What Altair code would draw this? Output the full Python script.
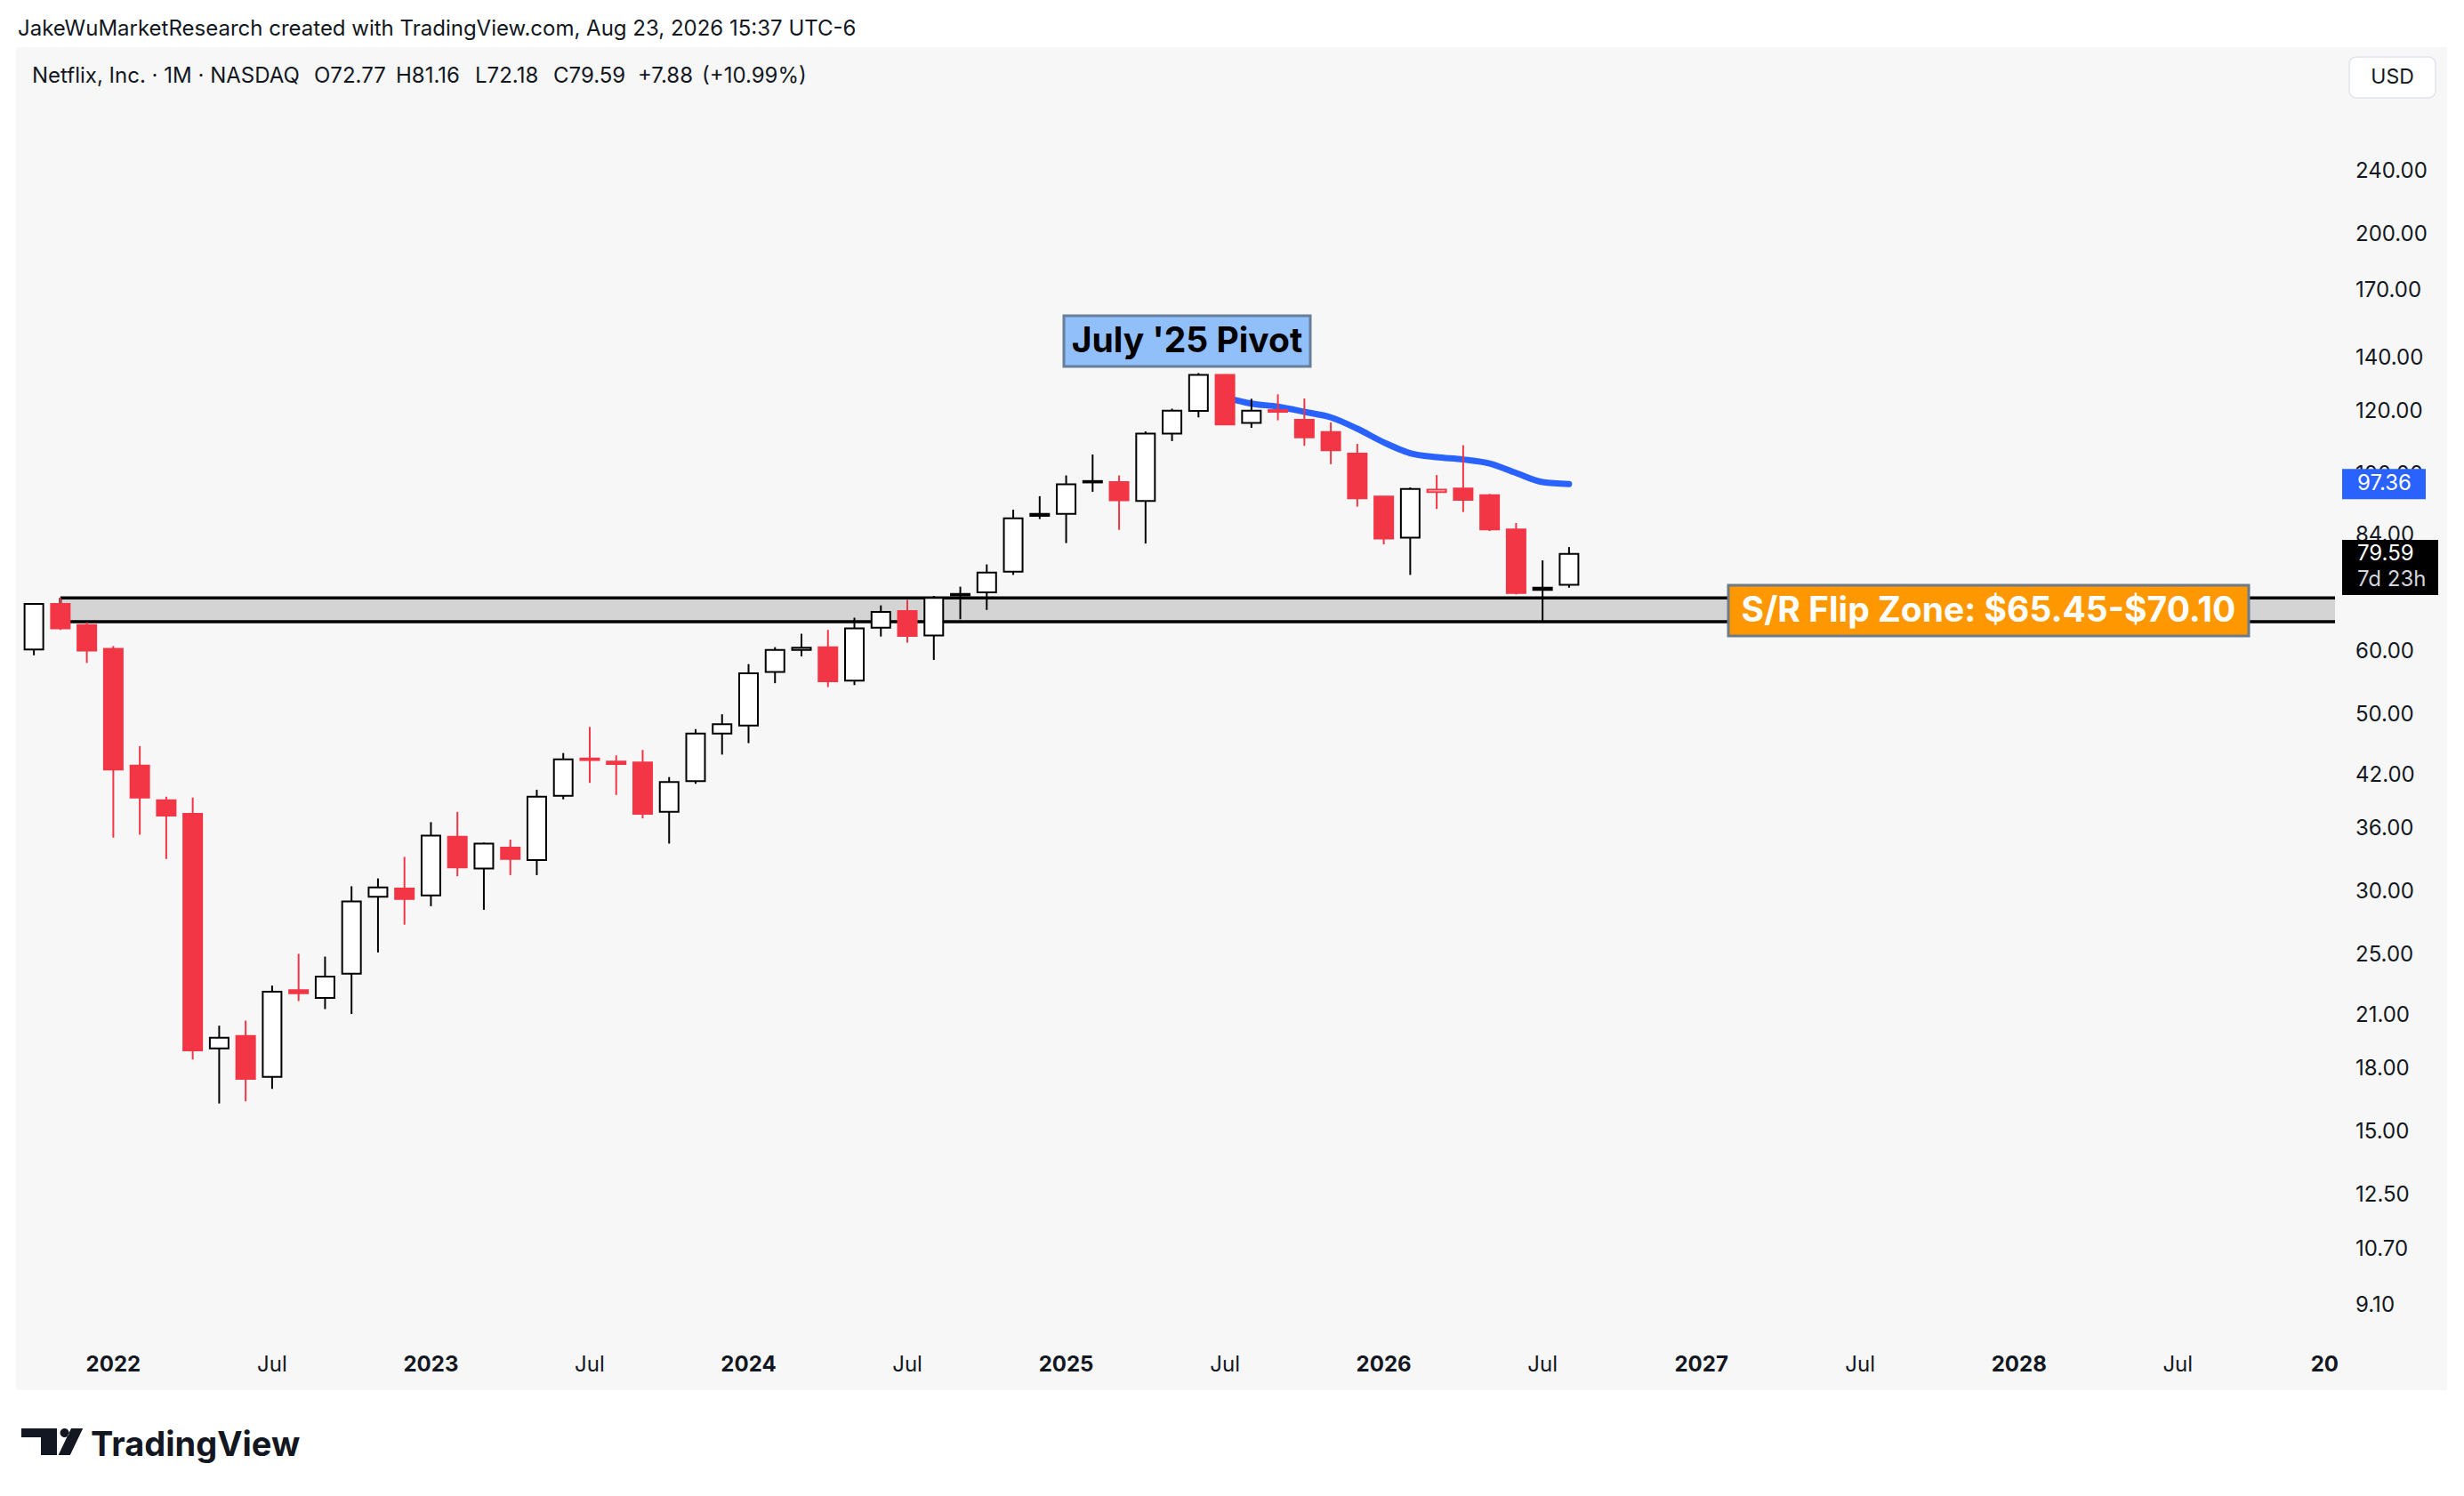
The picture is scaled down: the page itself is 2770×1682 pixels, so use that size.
import altair as alt
import pandas as pd

# ---------------- data (monthly NFLX, split-adjusted) ----------------
months = list(range(-3, 56))  # 0 = Jan 2022, -3 = Oct 2021, 55 = Aug 2026
opens = [60.4, 68.9, 64.8, 60.5, 43.2, 39.1, 37.6, 19.1, 19.8, 17.6, 22.6, 22.1, 23.7, 29.6, 30.3,
         29.7, 35.2, 32.1, 34.1, 32.9, 39.6, 44.1, 43.7, 43.6, 37.8, 41.3, 47.4,
         48.5, 56.6, 60.3, 60.8, 55.2, 64.3, 67.5, 62.9, 70.9, 71.2, 75.6, 89.3,
         89.3, 98.2, 97.9, 92.7, 112.6, 120.2, 133.4, 116.1, 120.5, 117.2, 113.1, 106.3,
         93.9, 83.4, 95.1, 96.1, 94.3, 85.4, 72.2, 72.77]
highs = [69.0, 70.1, 65.3, 61.0, 45.7, 39.5, 39.4, 20.4, 20.7, 22.9, 25.1, 24.9, 30.5, 31.2, 33.2,
         36.7, 37.8, 34.6, 34.9, 40.3, 44.8, 48.3, 44.5, 45.2, 41.8, 48.0, 50.1,
         57.9, 60.8, 63.2, 63.9, 66.2, 68.6, 69.7, 70.5, 72.4, 77.2, 90.4, 94.0,
         99.8, 106.0, 99.8, 113.3, 121.0, 134.1, 133.6, 124.5, 126.1, 124.6, 116.3, 109.3,
         94.0, 96.4, 99.9, 108.9, 94.6, 87.0, 78.1, 81.16]
lows = [59.4, 63.9, 58.1, 35.1, 35.4, 33.0, 18.5, 16.3, 16.4, 17.0, 21.9, 21.4, 21.1, 25.2, 27.3,
        28.8, 31.4, 28.5, 31.5, 31.5, 39.2, 41.1, 39.7, 37.1, 34.5, 41.0, 44.6,
        46.1, 54.8, 59.2, 54.2, 54.5, 62.7, 61.6, 58.6, 65.9, 67.7, 74.9, 88.0,
        82.1, 95.2, 85.3, 82.0, 110.2, 118.0, 115.4, 114.5, 117.0, 108.7, 103.1, 91.2,
        81.8, 74.9, 90.6, 89.8, 85.0, 70.8, 65.4, 72.18]
closes = [68.9, 64.2, 60.2, 42.7, 39.4, 37.4, 19.0, 19.7, 17.5, 22.5, 22.4, 23.5, 29.2, 30.4, 29.4,
          35.3, 32.2, 34.5, 33.0, 39.5, 44.0, 43.9, 43.4, 37.6, 41.2, 47.4, 48.7,
          56.4, 60.3, 60.7, 55.1, 64.2, 67.3, 62.8, 70.1, 70.6, 75.4, 88.2, 88.8,
          97.3, 97.8, 92.9, 112.6, 120.3, 133.4, 115.6, 120.3, 119.9, 111.4, 107.3, 93.4,
          83.2, 96.0, 95.8, 93.0, 85.4, 71.1, 71.71, 79.59]
close_before_first = 61.0  # Sep 2021 close

ma_months = list(range(42, 56))
ma_values = [125.0, 122.8, 121.7, 119.9, 118.0, 114.2, 109.8, 106.4, 105.2, 104.5, 103.3, 100.5, 97.9, 97.36]

zone_start_month = [-2]
zone_low = [65.45]
zone_high = [70.10]

price_ticks = [240, 200, 170, 140, 120, 100, 84, 72, 60, 50, 42, 36, 30, 25, 21, 18, 15, 12.5, 10.7, 9.1]
year_ticks = [0, 12, 24, 36, 48, 60, 72]
year_labels = ["2022", "2023", "2024", "2025", "2026", "2027", "2028"]
jul_ticks = [6, 18, 30, 42, 54, 66, 78]
jul_labels = ["Jul"] * 7

last_price = [79.59]
countdown = ["7d 23h"]

header = "JakeWuMarketResearch created with TradingView.com, Aug 23, 2026 15:37 UTC-6"
legend_parts = ["Netflix, Inc. \u00b7 1M \u00b7 NASDAQ", "O72.77", "H81.16", "L72.18", "C79.59", "+7.88", "(+10.99%)"]
legend_x = [18, 335, 427, 516, 604, 699, 771]

# ---------------- styling ----------------
FONT = "Inter"
TXT = "#131722"
RED = "#f23645"
BLK = "#000000"
BLUE = "#2962ff"
W, H = 2612, 1452
XDOM = [-3.508, 83.94]
YDOM = [8.271, 343.4]

fills, strokes = [], []
prev = close_before_first
for o, c in zip(opens, closes):
    sc = BLK if c >= prev else RED
    fc = "#ffffff" if c >= o else sc
    fills.append(fc)
    strokes.append(sc)
    prev = c

df = pd.DataFrame(dict(m=months, o=opens, h=highs, l=lows, c=closes, fill=fills, stroke=strokes))
ma_df = pd.DataFrame(dict(m=ma_months, v=ma_values))
one = pd.DataFrame({"k": [0]})

xs = alt.Scale(domain=XDOM, nice=False, zero=False)
ys = alt.Scale(type="log", domain=YDOM, nice=False, zero=False)


def X(f="m"):
    return alt.X(f"{f}:Q", scale=xs, axis=None)


def Y(f):
    return alt.Y(f"{f}:Q", scale=ys, axis=None)


def box(x0, x1, y0, y1, **kw):
    return alt.Chart(one).mark_rect(**kw).encode(
        x=alt.value(x0), x2=alt.value(x1), y=alt.value(y0), y2=alt.value(y1))


def label(txt, x, y, **kw):
    return alt.Chart(one).mark_text(text=txt, font=FONT, **kw).encode(x=alt.value(x), y=alt.value(y))


layers = []
# panel background
layers.append(box(0, 2733, 0, 1510, color="#f7f7f7"))

# S/R zone
zone_df = pd.DataFrame(dict(x0=zone_start_month, x1=[XDOM[1]], lo=zone_low, hi=zone_high))
layers.append(alt.Chart(zone_df).mark_rect(color="#d4d4d4").encode(
    x=X("x0"), x2="x1:Q", y=Y("lo"), y2="hi:Q"))
zl_df = pd.DataFrame(dict(x0=zone_start_month * 2, x1=[XDOM[1]] * 2, p=zone_low + zone_high))
layers.append(alt.Chart(zl_df).mark_rule(color=BLK, strokeWidth=3.5).encode(
    x=X("x0"), x2="x1:Q", y=Y("p")))
layers.append(alt.Chart(zone_df).mark_rule(color=BLK, strokeWidth=3).encode(
    x=X("x0"), y=Y("lo"), y2="hi:Q"))

# moving average
layers.append(alt.Chart(ma_df).mark_line(color=BLUE, strokeWidth=7, strokeCap="round",
                                         interpolate="monotone").encode(x=X(), y=Y("v")))

# candles
layers.append(alt.Chart(df).mark_rule(strokeWidth=2).encode(
    x=X(), y=Y("l"), y2="h:Q", color=alt.Color("stroke:N", scale=None)))
layers.append(alt.Chart(df).mark_bar(size=21, strokeWidth=2).encode(
    x=X(), y=Y("o"), y2="c:Q",
    fill=alt.Fill("fill:N", scale=None), stroke=alt.Stroke("stroke:N", scale=None)))

# annotation boxes
layers.append(box(1178, 1455, 302, 359, fill="#90bff9", stroke="#687f9c", strokeWidth=3))
layers.append(label("July '25 Pivot", 1316.5, 331, fontSize=39, fontWeight="bold", color="#000000",
                    align="center", baseline="middle"))
layers.append(box(1925, 2510, 605, 662, fill="#ff9800", stroke="#6c7b8a", strokeWidth=3))
layers.append(label("S/R Flip Zone: $65.45-$70.10", 2217.5, 634, fontSize=39, fontWeight="bold",
                    color="#ffffff", align="center", baseline="middle"))

# price scale labels
pl_df = pd.DataFrame(dict(p=price_ticks, t=[f"{v:.2f}" for v in price_ticks]))
layers.append(alt.Chart(pl_df).mark_text(align="left", baseline="middle", fontSize=24, font=FONT,
                                         color=TXT).encode(x=alt.value(2630), y=Y("p"), text="t:N"))

# price tags
blue_path = "M-0.94,-0.34L0.94,-0.34L0.94,0.34L-0.94,0.34Z"
black_path = "M-0.831,-0.2415L0.831,-0.2415L0.831,0.7123L-0.831,0.7123Z"
bt_df = pd.DataFrame(dict(p=[ma_values[-1]], t=[f"{ma_values[-1]:.2f}"]))
lt_df = pd.DataFrame(dict(p=last_price, t=[f"{v:.2f}" for v in last_price], cd=countdown))
layers.append(alt.Chart(bt_df).mark_point(shape=blue_path, size=100 ** 2, filled=True, fill=BLUE,
                                          opacity=1, strokeWidth=0).encode(x=alt.value(2662), y=Y("p")))
layers.append(alt.Chart(bt_df).mark_text(align="left", baseline="middle", fontSize=24, font=FONT,
                                         color="#ffffff").encode(x=alt.value(2632), y=Y("p"), text="t:N"))
layers.append(alt.Chart(lt_df).mark_point(shape=black_path, size=130 ** 2, filled=True, fill=BLK,
                                          opacity=1, strokeWidth=0).encode(x=alt.value(2669), y=Y("p")))
layers.append(alt.Chart(lt_df).mark_text(align="left", baseline="middle", fontSize=24, font=FONT,
                                         color="#ffffff").encode(x=alt.value(2632), y=Y("p"), text="t:N"))
layers.append(alt.Chart(lt_df).mark_text(align="left", baseline="middle", fontSize=24, font=FONT, dy=29,
                                         color="#d1d4dc").encode(x=alt.value(2632), y=Y("p"), text="cd:N"))

# time scale labels
yl_df = pd.DataFrame(dict(m=year_ticks, t=year_labels))
jl_df = pd.DataFrame(dict(m=jul_ticks, t=jul_labels))
layers.append(alt.Chart(yl_df).mark_text(align="center", baseline="middle", fontSize=24, font=FONT,
                                         fontWeight="bold", color=TXT).encode(x=X(), y=alt.value(1482), text="t:N"))
layers.append(alt.Chart(jl_df).mark_text(align="center", baseline="middle", fontSize=24, font=FONT,
                                         color=TXT).encode(x=X(), y=alt.value(1482), text="t:N"))
layers.append(label("20", 2611, 1482, fontSize=24, fontWeight="bold", color=TXT, align="right",
                    baseline="middle"))

# header and legend
layers.append(label(header, 2, -20, fontSize=24, color=TXT, align="left", baseline="middle"))
for txt, lx in zip(legend_parts, legend_x):
    layers.append(label(txt, lx, 33, fontSize=24, color=TXT, align="left", baseline="middle"))

# USD box
layers.append(box(2623, 2720, 11, 57, fill="#ffffff", stroke="#e0e3eb", strokeWidth=1.5, cornerRadius=8))
layers.append(label("USD", 2671.5, 34, fontSize=23, color=TXT, align="center", baseline="middle"))

# TradingView logo
logo_path = ("M-0.85,-0.375L0.15,-0.375L0.15,0.375L-0.3,0.375L-0.3,-0.125L-0.85,-0.125Z "
             "M0.24,-0.25A0.125,0.125 0 1,0 0.49,-0.25A0.125,0.125 0 1,0 0.24,-0.25Z "
             "M0.55,-0.375L0.88,-0.375L0.52,0.375L0.19,0.375Z")
layers.append(alt.Chart(one).mark_point(shape=logo_path, size=80 ** 2, filled=True, fill="#131722",
                                        opacity=1, strokeWidth=0).encode(x=alt.value(40), y=alt.value(1568)))
layers.append(label("TradingView", 84, 1573, fontSize=38, fontWeight="bold", color="#131722",
                    align="left", baseline="middle"))

chart = alt.layer(*layers).properties(
    width=W, height=H,
    autosize=alt.AutoSizeParams(type="none"),
    padding={"left": 10, "top": 45, "right": 125, "bottom": 150},
    background="#ffffff",
).configure_view(strokeWidth=0)

chart.save("out.html", embed_options={"renderer": "svg", "actions": False})
